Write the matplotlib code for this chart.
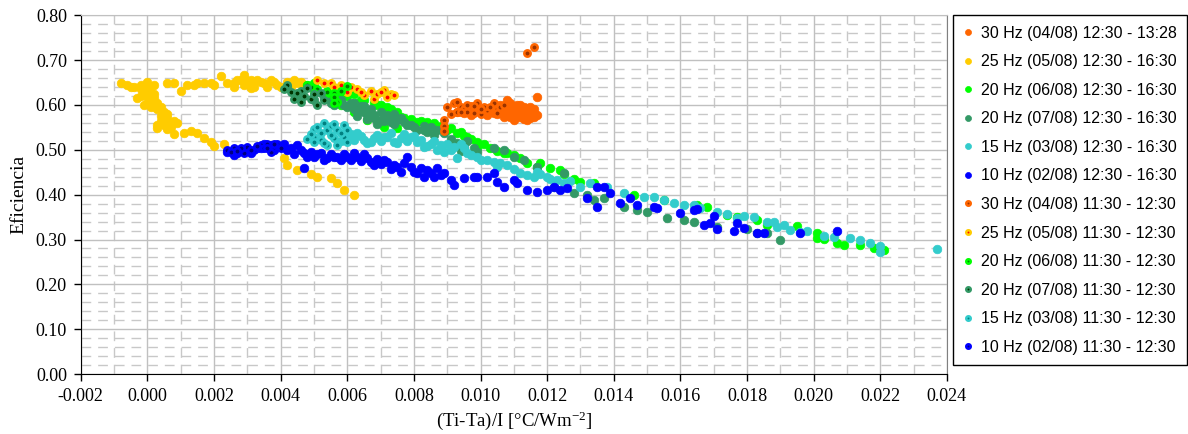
"""Collector efficiency vs reduced temperature difference, by pump frequency."""

import matplotlib.pyplot as plt
from matplotlib.ticker import MultipleLocator, FormatStrFormatter

plt.rcParams["mathtext.default"] = "regular"
plt.rcParams["axes.unicode_minus"] = False

# 30 Hz (04/08) 12:30 - 13:28
x30_pm = [0.0095, 0.0097, 0.0102, 0.0105, 0.0107, 0.0108, 0.0109, 0.0110, 0.0111, 0.0112,
          0.0113, 0.0114, 0.0116, 0.0116, 0.0110, 0.0111, 0.0117, 0.0112, 0.0114, 0.0115,
          0.0109, 0.0113, 0.0106, 0.0100, 0.0108, 0.0115, 0.0111, 0.0104, 0.0098, 0.0093,
          0.0106, 0.0108, 0.0110, 0.0112, 0.0113, 0.0114, 0.0116, 0.0117, 0.0109, 0.0111,
          0.0107, 0.0113, 0.0115, 0.0102, 0.0104]
y30_pm = [0.581, 0.577, 0.577, 0.579, 0.584, 0.577, 0.604, 0.595, 0.584, 0.573,
          0.588, 0.566, 0.581, 0.573, 0.566, 0.600, 0.617, 0.590, 0.578, 0.585,
          0.572, 0.596, 0.590, 0.585, 0.592, 0.570, 0.575, 0.582, 0.590, 0.585,
          0.600, 0.610, 0.585, 0.600, 0.578, 0.590, 0.590, 0.578, 0.580, 0.592,
          0.572, 0.568, 0.595, 0.590, 0.596]

# 25 Hz (05/08) 12:30 - 16:30
x25_pm = [-0.0008, -0.0006, -0.0004, -0.0002, 0.0000, 0.0001, -0.0001, 0.0000, 0.0002, -0.0003,
          0.0001, 0.0003, -0.0001, 0.0001, 0.0003, 0.0005, 0.0004, 0.0006, 0.0007, 0.0005,
          0.0008, 0.0002, 0.0003, 0.0006, 0.0008, 0.0011, 0.0013, 0.0015, 0.0017, 0.0019,
          0.0020, 0.0023, 0.0006, 0.0008, 0.0010, 0.0014, 0.0017, 0.0020, 0.0022, 0.0024,
          0.0026, 0.0029, 0.0030, 0.0032, 0.0035, 0.0038, 0.0040, 0.0044, 0.0046, 0.0033,
          0.0028, 0.0041, 0.0042, 0.0045, 0.0049, 0.0051, 0.0055, 0.0057, 0.0059, 0.0062,
          -0.0005, -0.0002, 0.0000, 0.0002, 0.0001, 0.0000, -0.0002, 0.0002, 0.0004, 0.0006,
          0.0004, 0.0007, 0.0003, 0.0009, 0.0027, 0.0029, 0.0031, 0.0031, 0.0034, 0.0036,
          0.0037, 0.0039, 0.0042, 0.0043, 0.0045, 0.0047, 0.0029, 0.0026, 0.0019, 0.0015,
          0.0012]
y25_pm = [0.648, 0.645, 0.640, 0.645, 0.650, 0.640, 0.630, 0.620, 0.625, 0.615,
          0.610, 0.605, 0.600, 0.595, 0.590, 0.585, 0.575, 0.570, 0.560, 0.555,
          0.565, 0.600, 0.548, 0.546, 0.535, 0.537, 0.541, 0.537, 0.526, 0.517,
          0.508, 0.514, 0.648, 0.648, 0.632, 0.644, 0.648, 0.644, 0.664, 0.648,
          0.648, 0.666, 0.648, 0.640, 0.648, 0.650, 0.640, 0.655, 0.650, 0.655,
          0.655, 0.481, 0.465, 0.454, 0.447, 0.439, 0.436, 0.425, 0.410, 0.399,
          0.640, 0.635, 0.640, 0.645, 0.625, 0.605, 0.620, 0.615, 0.595, 0.580,
          0.565, 0.550, 0.555, 0.560, 0.655, 0.645, 0.655, 0.638, 0.650, 0.640,
          0.655, 0.645, 0.650, 0.640, 0.648, 0.645, 0.660, 0.640, 0.648, 0.648,
          0.645]

# 20 Hz (06/08) 12:30 - 16:30
x20a_pm = [0.0048, 0.0050, 0.0054, 0.0058, 0.0063, 0.0066, 0.0069, 0.0072, 0.0071, 0.0075,
           0.0077, 0.0081, 0.0084, 0.0086, 0.0090, 0.0093, 0.0096, 0.0099, 0.0099, 0.0103,
           0.0107, 0.0110, 0.0114, 0.0117, 0.0121, 0.0124, 0.0130, 0.0134, 0.0146, 0.0155,
           0.0165, 0.0168, 0.0174, 0.0177, 0.0183, 0.0186, 0.0195, 0.0201, 0.0201, 0.0203,
           0.0207, 0.0209, 0.0214, 0.0218, 0.0221, 0.0060, 0.0065, 0.0079, 0.0088, 0.0095,
           0.0062, 0.0064, 0.0068, 0.0070, 0.0073, 0.0075, 0.0076, 0.0079, 0.0082, 0.0085,
           0.0087, 0.0091, 0.0094, 0.0097, 0.0101, 0.0105, 0.0108, 0.0112, 0.0118, 0.0125,
           0.0128, 0.0062, 0.0058]
y20a_pm = [0.645, 0.648, 0.632, 0.617, 0.604, 0.566, 0.600, 0.595, 0.550, 0.548,
           0.570, 0.561, 0.561, 0.559, 0.543, 0.537, 0.528, 0.517, 0.503, 0.503,
           0.492, 0.488, 0.470, 0.461, 0.459, 0.454, 0.428, 0.425, 0.399, 0.388,
           0.376, 0.372, 0.354, 0.350, 0.343, 0.332, 0.330, 0.314, 0.303, 0.301,
           0.292, 0.287, 0.287, 0.281, 0.276, 0.620, 0.610, 0.560, 0.552, 0.530,
           0.625, 0.612, 0.605, 0.600, 0.590, 0.585, 0.572, 0.568, 0.565, 0.556,
           0.550, 0.548, 0.540, 0.525, 0.512, 0.498, 0.493, 0.482, 0.470, 0.445,
           0.435, 0.585, 0.600]

# 20 Hz (07/08) 12:30 - 16:30
x20b_pm = [0.0042, 0.0045, 0.0050, 0.0056, 0.0060, 0.0063, 0.0066, 0.0068, 0.0069, 0.0071,
           0.0073, 0.0080, 0.0085, 0.0086, 0.0095, 0.0098, 0.0099, 0.0107, 0.0110, 0.0113,
           0.0117, 0.0122, 0.0125, 0.0128, 0.0132, 0.0134, 0.0137, 0.0143, 0.0147, 0.0150,
           0.0156, 0.0161, 0.0164, 0.0171, 0.0180, 0.0183, 0.0186, 0.0190, 0.0058, 0.0065,
           0.0076, 0.0078, 0.0083, 0.0074, 0.0062, 0.0054, 0.0091, 0.0104,
           0.0053, 0.0055, 0.0057, 0.0059, 0.0061, 0.0062, 0.0064, 0.0065, 0.0067, 0.0068,
           0.0070, 0.0071, 0.0072, 0.0073, 0.0074, 0.0075, 0.0077, 0.0079, 0.0081, 0.0083,
           0.0084, 0.0087, 0.0089, 0.0093, 0.0096, 0.0094, 0.0063, 0.0066, 0.0069]
y20b_pm = [0.640, 0.617, 0.610, 0.600, 0.595, 0.588, 0.580, 0.570, 0.566, 0.573,
           0.561, 0.550, 0.550, 0.532, 0.506, 0.503, 0.494, 0.499, 0.483, 0.477,
           0.461, 0.417, 0.448, 0.403, 0.399, 0.388, 0.392, 0.372, 0.365, 0.361,
           0.347, 0.343, 0.339, 0.327, 0.323, 0.314, 0.314, 0.298, 0.610, 0.598,
           0.570, 0.555, 0.545, 0.580, 0.605, 0.620, 0.525, 0.505,
           0.615, 0.605, 0.612, 0.600, 0.605, 0.592, 0.598, 0.585, 0.590, 0.578,
           0.585, 0.565, 0.578, 0.570, 0.558, 0.566, 0.562, 0.555, 0.545, 0.552,
           0.540, 0.545, 0.538, 0.515, 0.520, 0.498, 0.575, 0.568, 0.558]

# 15 Hz (03/08) 12:30 - 16:30
x15_pm = [0.0060, 0.0063, 0.0065, 0.0068, 0.0071, 0.0073, 0.0076, 0.0079, 0.0081, 0.0083,
          0.0085, 0.0087, 0.0090, 0.0092, 0.0094, 0.0093, 0.0097, 0.0100, 0.0104, 0.0105,
          0.0108, 0.0114, 0.0117, 0.0120, 0.0123, 0.0127, 0.0130, 0.0133, 0.0138, 0.0143,
          0.0149, 0.0152, 0.0155, 0.0158, 0.0161, 0.0164, 0.0166, 0.0171, 0.0174, 0.0177,
          0.0179, 0.0182, 0.0186, 0.0188, 0.0189, 0.0191, 0.0193, 0.0196, 0.0198, 0.0203,
          0.0206, 0.0211, 0.0214, 0.0217, 0.0220, 0.0220, 0.0237, 0.0066, 0.0075, 0.0088,
          0.0058, 0.0061, 0.0062, 0.0064, 0.0067, 0.0069, 0.0070, 0.0072, 0.0074, 0.0077,
          0.0078, 0.0080, 0.0082, 0.0084, 0.0086, 0.0088, 0.0089, 0.0091, 0.0095, 0.0096,
          0.0099, 0.0102, 0.0106, 0.0110, 0.0112, 0.0116, 0.0118, 0.0121, 0.0125]
y15_pm = [0.528, 0.537, 0.521, 0.526, 0.528, 0.537, 0.526, 0.528, 0.517, 0.506,
          0.514, 0.499, 0.514, 0.506, 0.514, 0.481, 0.488, 0.477, 0.472, 0.461,
          0.465, 0.443, 0.450, 0.439, 0.432, 0.430, 0.417, 0.425, 0.417, 0.403,
          0.394, 0.394, 0.388, 0.381, 0.376, 0.376, 0.370, 0.361, 0.356, 0.347,
          0.352, 0.350, 0.339, 0.339, 0.327, 0.332, 0.321, 0.316, 0.319, 0.307,
          0.305, 0.303, 0.298, 0.292, 0.285, 0.272, 0.278, 0.515, 0.515, 0.505,
          0.520, 0.535, 0.522, 0.530, 0.518, 0.532, 0.520, 0.528, 0.518, 0.535,
          0.520, 0.530, 0.522, 0.508, 0.520, 0.510, 0.495, 0.500, 0.505, 0.492,
          0.485, 0.478, 0.470, 0.458, 0.448, 0.440, 0.445, 0.435, 0.425]

# 10 Hz (02/08) 12:30 - 16:30
x10_pm = [0.0024, 0.0027, 0.0030, 0.0033, 0.0035, 0.0040, 0.0042, 0.0045, 0.0047, 0.0050,
          0.0052, 0.0054, 0.0056, 0.0058, 0.0060, 0.0062, 0.0066, 0.0068, 0.0047, 0.0071,
          0.0074, 0.0077, 0.0078, 0.0080, 0.0082, 0.0083, 0.0085, 0.0087, 0.0088, 0.0091,
          0.0092, 0.0095, 0.0098, 0.0099, 0.0102, 0.0104, 0.0105, 0.0107, 0.0110, 0.0111,
          0.0114, 0.0117, 0.0120, 0.0122, 0.0124, 0.0126, 0.0132, 0.0135, 0.0137, 0.0135,
          0.0139, 0.0142, 0.0145, 0.0147, 0.0152, 0.0153, 0.0160, 0.0164, 0.0165, 0.0170,
          0.0169, 0.0167, 0.0171, 0.0176, 0.0177, 0.0179, 0.0183, 0.0185, 0.0196, 0.0207,
          0.0026, 0.0029, 0.0031, 0.0034, 0.0037, 0.0038, 0.0041, 0.0043, 0.0044, 0.0046,
          0.0048, 0.0049, 0.0051, 0.0053, 0.0055, 0.0057, 0.0059, 0.0061, 0.0063, 0.0064,
          0.0065, 0.0067, 0.0069, 0.0070, 0.0072, 0.0073, 0.0075, 0.0076, 0.0079, 0.0081,
          0.0084, 0.0086, 0.0089]
y10_pm = [0.494, 0.492, 0.499, 0.503, 0.514, 0.506, 0.499, 0.510, 0.492, 0.483,
          0.492, 0.481, 0.483, 0.477, 0.483, 0.492, 0.481, 0.465, 0.459, 0.477,
          0.465, 0.470, 0.483, 0.450, 0.459, 0.439, 0.448, 0.460, 0.443, 0.432,
          0.421, 0.437, 0.439, 0.440, 0.439, 0.448, 0.428, 0.417, 0.432, 0.425,
          0.410, 0.405, 0.410, 0.417, 0.410, 0.414, 0.392, 0.417, 0.417, 0.372,
          0.403, 0.381, 0.392, 0.376, 0.372, 0.370, 0.359, 0.365, 0.367, 0.352,
          0.336, 0.332, 0.323, 0.319, 0.336, 0.325, 0.314, 0.314, 0.314, 0.319,
          0.488, 0.500, 0.493, 0.505, 0.510, 0.500, 0.512, 0.505, 0.490, 0.500,
          0.485, 0.495, 0.490, 0.478, 0.490, 0.485, 0.490, 0.478, 0.485, 0.475,
          0.490, 0.472, 0.480, 0.468, 0.472, 0.458, 0.462, 0.450, 0.462, 0.448,
          0.455, 0.440, 0.448]

# 30 Hz (04/08) 11:30 - 12:30
x30_am = [0.0092, 0.0093, 0.0094, 0.0091, 0.0093, 0.0095, 0.0096, 0.0098, 0.0099, 0.0100,
          0.0102, 0.0104, 0.0105, 0.0105, 0.0106, 0.0089, 0.0089, 0.0089, 0.0114, 0.0116,
          0.0097, 0.0101, 0.0090, 0.0096, 0.0100, 0.0103, 0.0098, 0.0107, 0.0094]
y30_am = [0.604, 0.606, 0.595, 0.579, 0.584, 0.592, 0.585, 0.581, 0.604, 0.579,
          0.588, 0.604, 0.592, 0.581, 0.595, 0.566, 0.552, 0.541, 0.715, 0.728,
          0.598, 0.596, 0.595, 0.600, 0.592, 0.595, 0.597, 0.600, 0.585]

# 25 Hz (05/08) 11:30 - 12:30
x25_am = [0.0051, 0.0053, 0.0055, 0.0056, 0.0058, 0.0060, 0.0061, 0.0063, 0.0065, 0.0068,
          0.0069, 0.0071, 0.0073, 0.0074, 0.0072, 0.0070, 0.0067, 0.0064]
y25_am = [0.655, 0.648, 0.648, 0.640, 0.645, 0.628, 0.640, 0.635, 0.621, 0.614,
          0.625, 0.633, 0.625, 0.621, 0.618, 0.628, 0.630, 0.628]

# 20 Hz (06/08) 11:30 - 12:30
x20a_am = [0.0049, 0.0051, 0.0054, 0.0056, 0.0057, 0.0060, 0.0058, 0.0056, 0.0048, 0.0050,
           0.0054, 0.0056]
y20a_am = [0.640, 0.635, 0.626, 0.626, 0.606, 0.642, 0.632, 0.617, 0.644, 0.626,
           0.628, 0.604]

# 20 Hz (07/08) 11:30 - 12:30
x20b_am = [0.0042, 0.0043, 0.0044, 0.0046, 0.0046, 0.0048, 0.0049, 0.0051, 0.0052, 0.0053,
           0.0045, 0.0050, 0.0041, 0.0047]
y20b_am = [0.644, 0.628, 0.614, 0.632, 0.606, 0.637, 0.614, 0.600, 0.626, 0.610,
           0.626, 0.625, 0.635, 0.620]

# 15 Hz (03/08) 11:30 - 12:30
x15_am = [0.0050, 0.0050, 0.0050, 0.0053, 0.0052, 0.0054, 0.0056, 0.0057, 0.0059, 0.0059,
          0.0057, 0.0054, 0.0049, 0.0051, 0.0052, 0.0055, 0.0055, 0.0058, 0.0060, 0.0060,
          0.0053, 0.0056, 0.0048]
y15_am = [0.546, 0.528, 0.517, 0.559, 0.537, 0.543, 0.526, 0.543, 0.555, 0.528,
          0.510, 0.510, 0.535, 0.550, 0.522, 0.532, 0.552, 0.538, 0.545, 0.518,
          0.515, 0.558, 0.523]

# 10 Hz (02/08) 11:30 - 12:30
x10_am = [0.0024, 0.0026, 0.0029, 0.0030, 0.0032, 0.0034, 0.0035, 0.0037, 0.0038, 0.0039,
          0.0036, 0.0025, 0.0028, 0.0031, 0.0033, 0.0036, 0.0038, 0.0040, 0.0027]
y10_am = [0.499, 0.503, 0.492, 0.506, 0.499, 0.510, 0.503, 0.494, 0.506, 0.514,
          0.514, 0.494, 0.505, 0.500, 0.508, 0.505, 0.512, 0.505, 0.497]

series = [
    (x30_pm, y30_pm, "#FF6600", None, "30 Hz (04/08) 12:30 - 13:28"),
    (x25_pm, y25_pm, "#FFCC00", None, "25 Hz (05/08) 12:30 - 16:30"),
    (x20a_pm, y20a_pm, "#00FF00", None, "20 Hz (06/08) 12:30 - 16:30"),
    (x20b_pm, y20b_pm, "#339966", None, "20 Hz (07/08) 12:30 - 16:30"),
    (x15_pm, y15_pm, "#33CCCC", None, "15 Hz (03/08) 12:30 - 16:30"),
    (x10_pm, y10_pm, "#0000FF", None, "10 Hz (02/08) 12:30 - 16:30"),
    (x30_am, y30_am, "#FF6600", "#993300", "30 Hz (04/08) 11:30 - 12:30"),
    (x25_am, y25_am, "#FFCC00", "#FF0000", "25 Hz (05/08) 11:30 - 12:30"),
    (x20a_am, y20a_am, "#00FF00", "#008000", "20 Hz (06/08) 11:30 - 12:30"),
    (x20b_am, y20b_am, "#339966", "#003300", "20 Hz (07/08) 11:30 - 12:30"),
    (x15_am, y15_am, "#33CCCC", "#008080", "15 Hz (03/08) 11:30 - 12:30"),
    (x10_am, y10_am, "#0000FF", "#000080", "10 Hz (02/08) 11:30 - 12:30"),
]

fig = plt.figure(figsize=(11.88, 4.34), dpi=100)
ax = fig.add_axes([0.068, 0.138, 0.729, 0.827])

for xs, ys, color, inner, label in series:
    if inner is None:
        ax.plot(xs, ys, linestyle="none", marker="o", markersize=6.2,
                markerfacecolor=color, markeredgecolor=color, markeredgewidth=0.5,
                label=label)
    else:
        ax.plot(xs, ys, linestyle="none", marker="o", markersize=4.6,
                markerfacecolor=inner, markeredgecolor=color, markeredgewidth=1.8,
                label=label)

ax.set_xlim(-0.002, 0.024)
ax.set_ylim(0.0, 0.8)
ax.xaxis.set_major_locator(MultipleLocator(0.002))
ax.xaxis.set_minor_locator(MultipleLocator(0.001))
ax.yaxis.set_major_locator(MultipleLocator(0.1))
ax.yaxis.set_minor_locator(MultipleLocator(0.02))
ax.xaxis.set_major_formatter(FormatStrFormatter("%.3f"))
ax.yaxis.set_major_formatter(FormatStrFormatter("%.2f"))

ax.set_axisbelow(True)
ax.grid(which="major", color="#c0c0c0", linewidth=1.0, linestyle="-")
ax.grid(which="minor", color="#c8c8c8", linewidth=1.0, linestyle=(0, (7, 5)))

serif = ["Liberation Serif", "DejaVu Serif"]
ax.tick_params(which="major", direction="out", length=5, width=1, labelsize=13, pad=5)
ax.tick_params(which="minor", length=0)
for lbl in ax.get_xticklabels() + ax.get_yticklabels():
    lbl.set_fontfamily(serif)

ax.spines["left"].set_color("black")
ax.spines["bottom"].set_color("black")
ax.spines["top"].set_color("#c0c0c0")
ax.spines["right"].set_color("#808080")

ax.set_ylabel("Eficiencia", fontsize=14, family=serif, labelpad=6)
ax.set_xlabel("(Ti-Ta)/I [°C/Wm$^{-2}$]", fontsize=13.5, family=serif, labelpad=3)

leg = ax.legend(loc="upper left", bbox_to_anchor=(1.007, 1.0), borderaxespad=0,
                frameon=True, fancybox=False, framealpha=1, edgecolor="black",
                prop={"family": "Liberation Sans", "size": 11.5},
                markerscale=0.7, handlelength=0.6, handletextpad=0.5,
                labelspacing=0.85, borderpad=0.65)
leg.get_frame().set_linewidth(1.0)

fig.savefig("out.png", dpi=100)
